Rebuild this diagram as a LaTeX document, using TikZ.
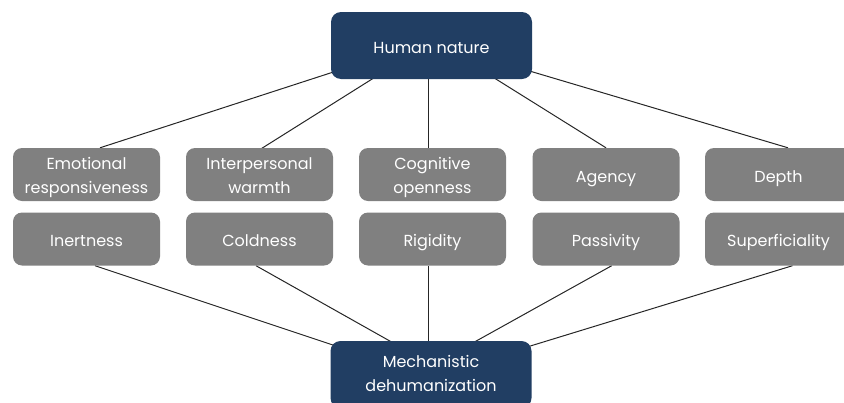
\documentclass[tikz,border=0pt]{standalone}
\usepackage{fontspec}
\setmainfont{Poppins}
\usetikzlibrary{backgrounds}
\definecolor{navy}{RGB}{33,62,99}
\definecolor{boxgray}{RGB}{128,128,128}
\definecolor{linkcol}{RGB}{38,38,38}
% centred lines, dropped a little below the geometric middle (box size kept)
\newcommand\boxtext[2][-3pt]{\raisebox{#1}[\height][\depth]{\begin{tabular}{@{}c@{}}#2\end{tabular}}}
\begin{document}
\begin{tikzpicture}[x=1pt,y=-1pt,
  mainbox/.style={draw=none,fill=navy,rounded corners=10pt,minimum width=201pt,
    minimum height=67pt,text=white,font=\fontsize{16}{24}\selectfont,inner sep=0pt},
  traitbox/.style={draw=none,fill=boxgray,rounded corners=9pt,minimum width=147pt,
    minimum height=53pt,text=white,font=\fontsize{16}{24}\selectfont,inner sep=0pt},
  link/.style={draw=linkcol,line width=1pt}]
\useasboundingbox (0,0) rectangle (844,402);
\clip (0,0) rectangle (844,402);

% central concepts
\node[mainbox] (top) at (431.5,45.5) {\boxtext{Human nature}};
\node[mainbox] (bot) at (431,374.5) {\boxtext[0pt]{Mechanistic\\dehumanization}};

% human-nature traits
\node[traitbox] (e1) at (86.5,174.5) {\boxtext[-2pt]{Emotional\\responsiveness}};
\node[traitbox] (e2) at (259.5,174.5) {\boxtext[-2pt]{Interpersonal\\warmth}};
\node[traitbox] (e3) at (432.5,174.5) {\boxtext[-2pt]{Cognitive\\openness}};
\node[traitbox] (e4) at (606,174.5) {\boxtext{Agency}};
\node[traitbox] (e5) at (778.5,174.5) {\boxtext{Depth}};

% their mechanistic opposites
\node[traitbox] (r1) at (86.5,239) {\boxtext{Inertness}};
\node[traitbox] (r2) at (259.5,239) {\boxtext{Coldness}};
\node[traitbox] (r3) at (432.5,239) {\boxtext{Rigidity}};
\node[traitbox] (r4) at (606,239) {\boxtext{Passivity}};
\node[traitbox] (r5) at (778.5,239) {\boxtext{Superficiality}};

\begin{scope}[on background layer]
  \draw[link] ([xshift=2pt,yshift=7pt]top.south west) -- ([xshift=13.5pt]e1.north);
  \draw[link] ([xshift=-56.5pt,yshift=2pt]top.south) -- ([yshift=-2pt]e2.north);
  \draw[link] ([xshift=-3.5pt]top.south) -- ([xshift=-3.5pt]top.south |- e3.north);
  \draw[link] ([xshift=61.5pt,yshift=2pt]top.south) -- (e4.north);
  \draw[link] ([xshift=-2pt,yshift=8pt]top.south east) -- ([xshift=9.5pt]e5.north);

  \draw[link] ([xshift=8.5pt]r1.south) -- ([xshift=8pt,yshift=-6pt]bot.north west);
  \draw[link] ([xshift=-3.5pt]r2.south) -- ([xshift=-38pt,yshift=-2pt]bot.north);
  \draw[link] ([xshift=-3pt]bot.north) -- ([xshift=-3pt]bot.north |- r3.south);
  \draw[link] ([xshift=5.7pt]r4.south) -- ([xshift=42pt,yshift=-2pt]bot.north);
  \draw[link] ([xshift=14pt]r5.south) -- ([xshift=-4pt,yshift=-6pt]bot.north east);
\end{scope}
\end{tikzpicture}
\end{document}
